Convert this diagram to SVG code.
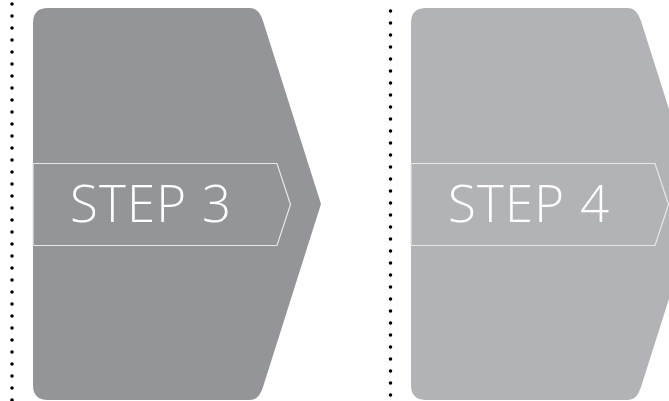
<svg xmlns="http://www.w3.org/2000/svg" width="669" height="401" viewBox="0 0 669 401">
<style>
.dots{fill:none;stroke:#000;stroke-width:3.6;stroke-linecap:round;stroke-dasharray:0 12}
.band{fill:none;stroke:#e6e7e8;stroke-width:1.2}
.lbl{font-family:"Open Sans","Liberation Sans",sans-serif;font-weight:300;font-size:51px;letter-spacing:2px;fill:#ffffff}
</style>
<defs>
<path id="chev" d="M48,8 H250 Q259,8 263,21 L321,204 L263,387 Q259,400 250,400 H48 Q33,400 33,385 V23 Q33,8 48,8 Z"/>
<path id="bandp" d="M33,163.5 H277 L290.5,204.5 L277,245.5 H33 Z"/>
</defs>
<g id="separators">
<line class="dots" x1="12" y1="4" x2="12" y2="401"/>
<line class="dots" x1="390.5" y1="11" x2="390.5" y2="401"/>
</g>
<g id="step3">
<use href="#chev" fill="#939598"/>
<use href="#bandp" class="band"/>
<text class="lbl" x="70" y="222" textLength="163" lengthAdjust="spacing">STEP 3</text>
</g>
<g id="step4" transform="translate(378,0)">
<use href="#chev" fill="#b1b3b6"/>
<use href="#bandp" class="band"/>
<text class="lbl" x="70" y="222" textLength="163" lengthAdjust="spacing">STEP 4</text>
</g>
</svg>
